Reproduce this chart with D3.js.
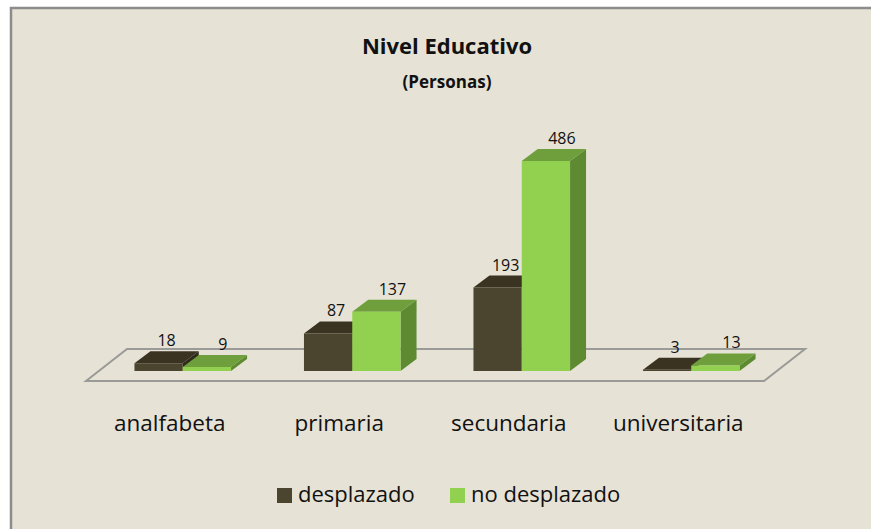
<!DOCTYPE html>
<html>
<head>
<meta charset="utf-8">
<script src="https://cdn.jsdelivr.net/npm/d3@7"></script>
<style>
  body { margin: 0; background: white; }
  text { font-family: "Open Sans", "Noto Sans", sans-serif; fill: #111; }
</style>
</head>
<body>
<div id="chart"></div>
<script>
// Data
var categories = ["analfabeta", "primaria", "secundaria", "universitaria"]
var series = ["desplazado", "no desplazado"]
var desplazado = [18, 87, 193, 3]
var noDesplazado = [9, 137, 486, 13]
var values = [desplazado, noDesplazado]

var width = 871
var height = 529

// 3d look
var depthX = 16
var depthY = 12
var baseY = 371

var colors = {
  front: ["#4b4530", "#92d050"],
  top:   ["#3a3322", "#6e9f3c"],
  side:  ["#2e2a1b", "#5e8a31"]
}
var labelShift = [8, 16]

var x0 = d3.scaleBand()
    .domain(categories)
    .range([98, 776])
var x1 = d3.scaleBand()
    .domain(series)
    .range([0, x0.bandwidth()])
    .paddingOuter(0.755)
var y = d3.scaleLinear()
    .domain([0, 500])
    .range([baseY, baseY - 216])

var svg = d3.select('#chart')
  .append('svg')
  .attr('width', width)
  .attr('height', height)

// Chart area background + frame
svg.append("rect")
    .attr("x", 11)
    .attr("y", 8)
    .attr("width", width + 20)
    .attr("height", height + 20)
    .style("fill", "#e6e2d5")
    .style("stroke", "#8c8c8c")
    .style("stroke-width", 2.5)

// Title
svg.append("text")
    .attr("x", 447)
    .attr("y", 54)
    .style("text-anchor", "middle")
    .style("font-size", "22px")
    .style("font-weight", "bold")
    .text("Nivel Educativo")

svg.append("text")
    .attr("x", 447)
    .attr("y", 88)
    .style("text-anchor", "middle")
    .style("font-size", "17px")
    .style("font-weight", "bold")
    .text("(Personas)")

// Floor
var r = x0.range()
var floorPts = [
  [r[0] - 12, 381], [r[0] + 29, 349], [r[1] + 29, 349], [r[1] - 12, 381]
]
svg.append("path")
    .attr("d", d3.line()(floorPts) + "Z")
    .style("fill", "none")
    .style("stroke", "#9a9a98")
    .style("stroke-width", 2)

// Bars (draw left to right so later faces overlap)
var bars = []
categories.forEach(function (c, i) {
  series.forEach(function (s, j) {
    bars.push({cat: c, ser: s, j: j, v: values[j][i]})
  })
})

var g = svg.selectAll('g.bar')
    .data(bars)
    .enter()
    .append("g")
    .attr("class", "bar")

function face(d, which) {
  var xl = x0(d.cat) + x1(d.ser)
  var xr = xl + x1.bandwidth()
  var yt = y(d.v)
  if (which == "side") {
    return d3.line()([[xr, yt], [xr + depthX, yt - depthY], [xr + depthX, baseY - depthY], [xr, baseY]]) + "Z"
  }
  if (which == "top") {
    return d3.line()([[xl, yt], [xl + depthX, yt - depthY], [xr + depthX, yt - depthY], [xr, yt]]) + "Z"
  }
  return d3.line()([[xl, yt], [xr, yt], [xr, baseY], [xl, baseY]]) + "Z"
}

g.append("path")
    .attr("d", function (d) { return face(d, "side") })
    .style("fill", function (d) { return colors.side[d.j] })
g.append("path")
    .attr("d", function (d) { return face(d, "top") })
    .style("fill", function (d) { return colors.top[d.j] })
g.append("path")
    .attr("d", function (d) { return face(d, "front") })
    .style("fill", function (d) { return colors.front[d.j] })

// Value labels
g.append("text")
    .attr("x", function (d) { return x0(d.cat) + x1(d.ser) + x1.bandwidth() / 2 + labelShift[d.j] })
    .attr("y", function (d) { return y(d.v) - depthY - 5 })
    .style("text-anchor", "middle")
    .style("font-size", "16px")
    .text(function (d) { return d.v })

// Category labels
svg.selectAll("text.cat")
    .data(categories)
    .enter()
    .append("text")
    .attr("class", "cat")
    .attr("x", function (d) { return x0(d) + x0.bandwidth() / 2 - 13 })
    .attr("y", 431)
    .style("text-anchor", "middle")
    .style("font-size", "22.5px")
    .text(function (d) { return d })

// Legend
var legendX = [277, 450]
var legend = svg.selectAll("g.legend")
    .data(series)
    .enter()
    .append("g")
    .attr("class", "legend")
    .attr("transform", function (d, i) { return "translate(" + legendX[i] + ",488)" })

legend.append("rect")
    .attr("width", 15)
    .attr("height", 15)
    .style("fill", function (d, i) { return colors.front[i] })

legend.append("text")
    .attr("x", 21)
    .attr("y", 14)
    .style("font-size", "22px")
    .text(function (d) { return d })
</script>
</body>
</html>
